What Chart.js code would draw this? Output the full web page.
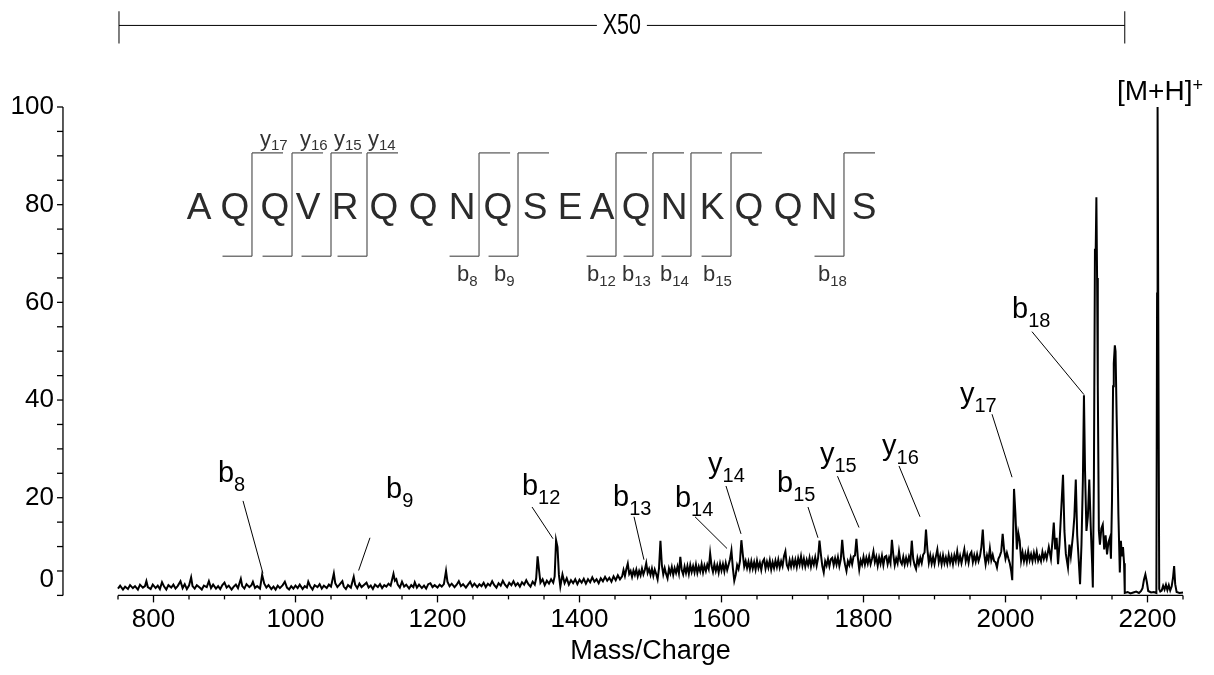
<!DOCTYPE html>
<html>
<head>
<meta charset="utf-8">
<title>MS/MS spectrum</title>
<script src="https://cdn.jsdelivr.net/npm/chart.js@4.4.1/dist/chart.umd.min.js"></script>
<style>
  html, body { margin: 0; padding: 0; background: #fff; }
  #wrap { width: 1214px; height: 675px; }
</style>
</head>
<body>
<div id="wrap"><canvas id="spectrum" width="1214" height="675"></canvas></div>
<script>
//===============================================================
// ============================ DATA ============================
//===============================================================

// m/z of each point of the trace (x50 region up to 2168, then raw)
const mz = [
  750, 753, 757, 760, 764, 767, 771, 774, 778, 781,
  785, 788, 790, 792, 796, 799, 803, 806, 809, 812,
  815, 818, 821, 825, 828, 831, 834, 838, 841, 844,
  847, 850, 853, 855, 858, 861, 865, 868, 871, 875,
  878, 881, 884, 888, 891, 894, 897, 900, 903, 906,
  910, 913, 916, 919, 923, 925, 928, 931, 935, 938,
  940, 943, 946, 950, 953, 956, 959, 962, 966, 969,
  972, 975, 978, 982, 985, 988, 991, 994, 997, 1000,
  1003, 1006, 1010, 1013, 1016, 1018, 1021, 1024, 1027, 1031,
  1034, 1037, 1040, 1044, 1047, 1050, 1054, 1056, 1059, 1062,
  1066, 1068, 1071, 1074, 1078, 1082, 1084, 1087, 1090, 1093,
  1096, 1100, 1103, 1106, 1109, 1112, 1116, 1119, 1122, 1125,
  1128, 1131, 1134, 1136, 1138, 1140, 1142, 1144, 1147, 1150,
  1153, 1156, 1160, 1163, 1166, 1168, 1171, 1174, 1178, 1181,
  1184, 1187, 1190, 1193, 1196, 1200, 1203, 1206, 1209, 1212,
  1214, 1217, 1220, 1224, 1227, 1230, 1233, 1236, 1240, 1243,
  1246, 1249, 1252, 1256, 1259, 1262, 1265, 1268, 1271, 1274,
  1277, 1280, 1283, 1286, 1289, 1292, 1295, 1298, 1301, 1304,
  1307, 1310, 1313, 1316, 1319, 1322, 1325, 1328, 1331, 1334,
  1337, 1339, 1341, 1343, 1345, 1348, 1351, 1354, 1357, 1360,
  1363, 1365, 1367, 1369, 1371, 1373, 1376, 1379, 1382, 1385,
  1388, 1391, 1394, 1397, 1400, 1403, 1406, 1409, 1412, 1415,
  1418, 1421, 1424, 1427, 1430, 1433, 1436, 1439, 1442, 1445,
  1448, 1451, 1454, 1457,
  1460, 1462, 1464, 1466, 1468, 1470, 1472, 1474, 1476, 1478,
  1480, 1482, 1484, 1486, 1488, 1490, 1492, 1494, 1496, 1498,
  1500, 1502, 1504, 1506, 1508, 1510, 1512, 1514, 1516, 1518,
  1520, 1522, 1524, 1526, 1528, 1530, 1532, 1534, 1536, 1538,
  1540, 1542, 1544, 1546, 1548, 1550, 1552, 1554, 1556, 1558,
  1560, 1562, 1564, 1566, 1568, 1570, 1572, 1574, 1576, 1578,
  1580, 1582, 1584, 1586, 1588, 1590, 1592, 1594, 1596, 1598,
  1600, 1602, 1604, 1606, 1608, 1610, 1612, 1614, 1616, 1618,
  1620, 1622, 1624, 1626, 1628, 1630, 1632, 1634, 1636, 1638,
  1640, 1642, 1644, 1646, 1648, 1650, 1652, 1654, 1656, 1658,
  1660, 1662, 1664, 1666, 1668, 1670, 1672, 1674, 1676, 1678,
  1680, 1682, 1684, 1686, 1688, 1690, 1692, 1694, 1696, 1698,
  1700, 1702, 1704, 1706, 1708, 1710, 1712, 1714, 1716, 1718,
  1720, 1722, 1724, 1726, 1728, 1730, 1732, 1734, 1736, 1738,
  1740, 1742, 1744, 1746, 1748, 1750, 1752, 1754, 1756, 1758,
  1760, 1762, 1764, 1766, 1768, 1770, 1772, 1774, 1776, 1778,
  1780, 1782, 1784, 1786, 1788, 1790, 1792, 1794, 1796, 1798,
  1800, 1802, 1804, 1806, 1808, 1810, 1812, 1814, 1816, 1818,
  1820, 1822, 1824, 1826, 1828, 1830, 1832, 1834, 1836, 1838,
  1840, 1842, 1844, 1846, 1848, 1850, 1852, 1854, 1856, 1858,
  1860, 1862, 1864, 1866, 1868, 1870, 1872, 1874, 1876, 1878,
  1880, 1882, 1884, 1886, 1888, 1890, 1892, 1894, 1896, 1898,
  1900, 1902, 1904, 1906, 1908, 1910, 1912, 1914, 1916, 1918,
  1920, 1922, 1924, 1926, 1928, 1930, 1932, 1934, 1936, 1938,
  1940, 1942, 1944, 1946, 1948, 1950, 1952, 1954, 1956, 1958,
  1960, 1962, 1964, 1966, 1968, 1970, 1972, 1974, 1976, 1978,
  1980, 1982, 1984, 1986, 1988, 1990, 1992, 1994, 1996, 1998,
  2000, 2002, 2004, 2006, 2008, 2009.5, 2011, 2012, 2014, 2016, 2018,
  2020, 2022, 2024, 2026, 2028, 2030, 2032, 2034, 2036, 2038,
  2040, 2042, 2044, 2046, 2048, 2050, 2052, 2054, 2056, 2058,
  2061, 2064, 2066, 2068, 2070, 2072, 2074, 2076,
  2078, 2081, 2083, 2085, 2088, 2090, 2092, 2095, 2097, 2099,
  2101, 2103, 2105, 2107, 2109, 2110.5, 2112, 2114, 2116, 2118,
  2120, 2122, 2123, 2124.5, 2126, 2127, 2128, 2129, 2130, 2131.5,
  2133, 2135, 2137, 2139, 2141, 2143, 2145, 2147, 2148.5, 2150,
  2151.5, 2152.5, 2154, 2155, 2156.5, 2158, 2159, 2161, 2162.5, 2164,
  2165.5, 2167, 2168, 2172, 2176, 2180, 2184, 2188, 2191, 2193,
  2195, 2197, 2199, 2201, 2205, 2209, 2212.5, 2213.5, 2214.2, 2215.2,
  2216.5, 2218, 2220, 2222, 2224, 2226, 2228, 2230, 2232, 2234,
  2236, 2237.5, 2239, 2241, 2245, 2250
];

// relative intensity (%)
const intensity = [
  1.4, 2.0, 1.2, 1.8, 1.3, 2.1, 1.5, 1.9, 1.2, 2.2,
  1.6, 1.9, 2.9, 1.7, 1.3, 2.2, 1.5, 2.0, 1.3, 2.7,
  1.8, 1.2, 2.1, 1.6, 2.2, 1.4, 1.9, 2.9, 1.5, 2.3,
  1.3, 2.0, 3.7, 1.9, 1.4, 2.1, 1.6, 1.2, 2.0, 1.7,
  2.9, 1.5, 2.2, 1.4, 1.9, 1.3, 2.1, 2.6, 1.6, 2.0,
  1.2, 1.8, 2.2, 1.5, 3.4, 1.9, 1.4, 2.3, 1.7, 2.1,
  2.8, 1.5, 1.9, 1.4, 4.2, 2.4, 1.6, 2.1, 1.3, 1.8,
  1.2, 2.0, 1.5, 2.1, 2.8, 1.6, 1.2, 1.9, 1.4, 2.0,
  1.5, 2.2, 1.3, 1.9, 1.6, 2.8, 1.8, 1.2, 2.1, 1.7,
  2.3, 1.4, 2.0, 1.5, 2.2, 1.8, 4.5, 2.5, 1.7, 2.2,
  2.9, 1.8, 1.3, 2.1, 1.6, 3.8, 2.2, 1.5, 2.4, 1.7,
  2.1, 2.6, 1.6, 2.0, 1.3, 2.2, 1.7, 2.3, 1.5, 2.1,
  1.8, 2.4, 2.0, 3.2, 4.4, 3.0, 3.3, 2.2, 1.6, 2.8,
  1.8, 2.2, 1.4, 2.1, 1.7, 2.7, 1.6, 2.2, 1.5, 2.0,
  1.4, 2.3, 2.5, 1.7, 2.1, 1.6, 2.2, 1.8, 2.3, 5.0,
  2.8, 1.9, 2.4, 1.7, 2.2, 2.9, 1.9, 2.3, 1.6, 2.2,
  2.8, 1.8, 2.4, 1.7, 2.3, 1.9, 2.6, 1.7, 2.4, 2.0,
  2.9, 2.1, 1.6, 2.5, 2.0, 3.0, 2.2, 1.7, 2.6, 2.1,
  2.9, 2.0, 2.5, 1.8, 2.7, 2.2, 3.1, 2.3, 1.8, 2.8,
  2.2, 3.5, 8.0, 5.2, 2.6, 3.3, 2.1, 3.0, 2.4, 3.3,
  2.6, 3.9, 11.3, 9.9, 4.2, 1.8, 4.3, 2.5, 3.5, 2.2,
  3.1, 2.5, 3.3, 2.3, 3.2, 2.6, 3.4, 2.4, 3.3, 2.7,
  3.7, 2.8, 3.3, 2.5, 3.5, 2.9, 3.8, 3.0, 3.6, 2.8,
  3.9, 3.1, 4.1, 3.3,
  3.9, 5.2, 4.0, 5.4, 6.5, 4.4, 5.0, 3.8, 5.1, 4.2,
  5.3, 3.9, 5.0, 4.1, 5.5, 4.3, 5.2, 6.6, 4.6, 5.4,
  4.2, 5.5, 4.0, 5.3, 4.4, 3.3, 5.6, 11.2, 6.2, 4.3,
  5.6, 4.4, 3.5, 5.5, 4.5, 5.8, 4.2, 5.6, 4.6, 5.9,
  4.5, 7.9, 5.2, 4.3, 5.9, 4.6, 6.0, 4.4, 6.2, 4.8,
  6.0, 4.7, 6.3, 4.6, 5.9, 4.9, 6.4, 4.7, 6.1, 5.0,
  6.3, 5.4, 8.6, 6.0, 4.8, 6.4, 5.0, 6.2, 4.7, 6.5,
  5.1, 6.4, 4.9, 6.6, 5.2, 6.3, 7.4, 9.2, 5.6, 3.0,
  4.2, 6.2, 5.4, 7.0, 11.3, 8.4, 5.9, 7.0, 5.6, 6.9,
  5.4, 7.0, 5.5, 6.8, 5.3, 7.1, 5.6, 6.7, 5.2, 6.9,
  7.4, 5.5, 6.9, 5.7, 7.2, 5.3, 6.8, 5.6, 7.1, 5.8,
  7.3, 5.7, 7.0, 6.0, 8.0, 9.0, 6.2, 5.5, 7.2, 5.9,
  7.4, 6.0, 7.3, 5.8, 7.6, 6.3, 8.0, 6.1, 7.5, 5.9,
  7.3, 6.2, 7.7, 5.9, 7.4, 6.3, 7.8, 6.1, 7.6, 11.2,
  8.4, 6.0, 4.7, 7.0, 6.1, 7.5, 6.0, 7.4, 7.7, 6.2,
  7.6, 6.3, 7.8, 6.0, 7.4, 11.4, 8.0, 6.3, 5.0, 7.0,
  6.2, 7.7, 6.4, 8.0, 8.2, 11.6, 7.8, 5.3, 7.2, 6.3,
  7.9, 6.3, 7.7, 6.5, 8.0, 6.4, 7.5, 9.0, 6.8, 7.9,
  6.1, 7.8, 6.5, 8.1, 6.2, 7.9, 8.1, 6.4, 7.7, 6.6,
  11.4, 8.3, 6.2, 7.6, 6.6, 9.0, 7.0, 6.4, 7.9, 6.3,
  7.7, 6.5, 7.9, 6.8, 11.2, 7.5, 6.2, 5.4, 7.6, 6.4,
  7.7, 6.6, 8.3, 8.8, 13.5, 9.4, 6.7, 8.2, 6.5, 7.9,
  6.4, 8.0, 9.4, 6.8, 8.1, 6.4, 8.2, 6.6, 7.8, 6.5,
  8.3, 6.7, 8.0, 6.4, 8.2, 7.0, 9.0, 6.8, 8.1, 6.6,
  8.0, 9.4, 7.0, 8.3, 6.7, 8.4, 8.9, 6.8, 8.2, 6.9,
  8.4, 7.0, 8.0, 9.9, 13.5, 8.5, 6.4, 8.2, 7.1, 9.6,
  7.2, 8.3, 7.0, 6.8, 5.7, 7.5, 8.1, 9.0, 12.6, 9.4,
  7.5, 8.7, 7.6, 6.6, 5.0, 3.1, 14.2, 21.8, 16.6, 9.4, 12.8,
  11.2, 7.1, 8.8, 7.0, 8.5, 6.9, 9.0, 7.2, 8.4, 7.0,
  8.7, 7.3, 8.9, 7.1, 8.0, 7.0, 8.9, 7.5, 8.6, 7.5,
  9.9, 7.5, 10.9, 14.9, 9.4, 11.8, 6.4, 10.4,
  16.1, 24.7, 13.2, 8.5, 5.7, 10.4, 8.0, 12.3, 16.1, 23.7,
  12.3, 7.5, 2.3, 10.4, 23.7, 41.0, 25.6, 13.2, 16.1, 23.7,
  14.2, 6.6, 1.6, 23.7, 71.0, 70.0, 81.5, 65.0, 42.8, 13.2,
  10.4, 13.7, 14.5, 9.4, 12.3, 8.4, 10.9, 11.8, 7.5, 19.4,
  42.8, 47.5, 51.2, 50.0, 37.0, 25.6, 16.6, 4.7, 11.2, 8.0,
  9.9, 6.6, 0.5, 0.7, 0.4, 0.6, 0.8, 0.5, 0.9, 1.5,
  3.2, 4.3, 2.8, 0.9, 0.6, 0.7, 0.5, 61.8, 100, 57.0,
  1.3, 0.8, 1.0, 2.0, 1.2, 2.2, 1.1, 2.1, 1.0, 1.8,
  3.7, 6.0, 2.3, 0.7, 0.5, 0.6
];

// axis ranges and ticks
const xRange = [750, 2250];
const xLabelEvery = 200;
const xMinorStep = 50;
const yRange = [0, 100];
const yLabelEvery = 20;
const yMinorStep = 5;

// peptide and its fragment annotations
const sequence = ['A','Q','Q','V','R','Q','Q','N','Q','S','E','A','Q','N','K','Q','Q','N','S'];
const yIons = ['17', '16', '15', '14'];
const bIons = ['8', '9', '12', '13', '14', '15', '18'];

//===============================================================
// ================= ANNOTATION PLACEMENT (m/z, %) ==============
//===============================================================

const FONT = "'Liberation Sans', Arial, Helvetica, sans-serif";

const yAxisAt = 672.5;                 // y axis line is drawn left of the plot
const zeroLabelLift = 16;              // the "0" label sits above its tick
const x50Span = [751.4, 2168];         // magnified region bar
const x50Level = 116.7;
const x50Tick = [113.0, 119.6];

const seqAt = [864.1, 914.8, 971.1, 1017.6, 1069.7, 1124.6, 1179.6, 1234.5, 1285.2, 1337.3,
               1386.6, 1431.7, 1479.6, 1533.1, 1586.6, 1638.7, 1693.7, 1744.4, 1800.7];
const seqBase = 77.0;
const cleavageAt = [938.7, 995.1, 1050.0, 1100.7, 1258.5, 1313.4, 1451.4, 1503.5, 1557.0, 1613.4, 1772.5];
const bracketTop = 90.6, bracketBottom = 69.45;
const tailRight = 43.7, tailLeft = 41.5;
const yIonAt = [950.0, 1006.3, 1054.2, 1102.1];
const yIonBase = 92.0;
const bIonAt = [1227.5, 1279.6, 1410.6, 1459.9, 1513.4, 1573.9, 1735.9];
const bIonBase = 64.4;

// labels on the trace: text left/baseline, leader line start and end
const peakLabels = [
  { ion: 'b', n: '8',  at: [890.8, 23.2],  from: [926.1, 19.35], to: [954.2, 4.5] },
  { ion: 'b', n: '9',  at: [1127.5, 20.0], from: [1104.9, 11.8], to: [1088.9, 5.1] },
  { ion: 'b', n: '12', at: [1319.0, 20.6], from: [1333.1, 18.1], to: [1362.7, 11.6] },
  { ion: 'b', n: '13', at: [1447.2, 18.3], from: [1476.8, 16.1], to: [1490.8, 7.3] },
  { ion: 'b', n: '14', at: [1534.5, 18.1], from: [1562.7, 16.1], to: [1607.8, 9.6] },
  { ion: 'y', n: '14', at: [1581.0, 25.0], from: [1606.3, 22.4], to: [1627.5, 12.6] },
  { ion: 'b', n: '15', at: [1678.2, 21.2], from: [1721.8, 18.1], to: [1735.9, 11.8] },
  { ion: 'y', n: '15', at: [1738.7, 27.1], from: [1763.4, 24.4], to: [1793.7, 13.9] },
  { ion: 'y', n: '16', at: [1826.1, 28.7], from: [1850.0, 26.5], to: [1879.6, 16.1] },
  { ion: 'y', n: '17', at: [1935.9, 39.3], from: [1981.0, 37.1], to: [2009.2, 24.2] },
  { ion: 'b', n: '18', at: [2009.2, 56.8], from: [2037.3, 54.0], to: [2110.6, 41.1] }
];
const parentAt = [2157.0, 101.4];

//===============================================================
// ========================= PLUGIN =============================
//===============================================================

const decorations = {
  id: 'decorations',
  afterDraw(chart) {
    const ctx = chart.ctx;
    const xs = chart.scales.x;
    const ys = chart.scales.y;
    const px = v => xs.getPixelForValue(v);
    const py = v => ys.getPixelForValue(v);

    function seg(x1, y1, x2, y2) {
      ctx.beginPath();
      ctx.moveTo(x1, y1);
      ctx.lineTo(x2, y2);
      ctx.stroke();
    }

    function ionText(ion, n, mzLeft, base, big, small, drop) {
      const lx = px(mzLeft), ly = py(base);
      ctx.font = big + 'px ' + FONT;
      ctx.fillText(ion, lx, ly);
      const w = ctx.measureText(ion).width;
      ctx.font = small + 'px ' + FONT;
      ctx.fillText(n, lx + w, ly + drop);
    }

    ctx.save();
    ctx.textAlign = 'left';
    ctx.textBaseline = 'alphabetic';

    // ---- axes ----
    ctx.strokeStyle = '#000';
    ctx.lineWidth = 1.3;
    const ax = px(yAxisAt);
    const yBottom = py(yRange[0]);
    seg(ax, yBottom, ax, py(yRange[1]));
    ys.ticks.forEach(t => seg(ax - 6, py(t.value), ax, py(t.value)));
    seg(px(xRange[0]), yBottom, px(xRange[1]), yBottom);
    xs.ticks.forEach(t => {
      const len = t.value % xLabelEvery === 0 ? 7 : 4;
      seg(px(t.value), yBottom, px(t.value), yBottom + len);
    });

    // "0" label, lifted off the corner like in the original
    ctx.fillStyle = '#000';
    ctx.font = '26px ' + FONT;
    ctx.textAlign = 'right';
    ctx.textBaseline = 'middle';
    ctx.fillText('0', ax - 9, yBottom - zeroLabelLift);
    ctx.textAlign = 'left';
    ctx.textBaseline = 'alphabetic';

    // ---- X50 bar ----
    ctx.lineWidth = 1;
    const barY = py(x50Level);
    seg(px(x50Span[0]), barY, px(x50Span[1]), barY);
    seg(px(x50Span[0]), py(x50Tick[0]), px(x50Span[0]), py(x50Tick[1]));
    seg(px(x50Span[1]), py(x50Tick[0]), px(x50Span[1]), py(x50Tick[1]));
    const midX = (px(x50Span[0]) + px(x50Span[1])) / 2;
    ctx.fillStyle = '#fff';
    ctx.fillRect(midX - 25, barY - 14, 50, 28);
    ctx.save();
    ctx.translate(midX, barY);
    ctx.scale(0.74, 1);
    ctx.fillStyle = '#000';
    ctx.font = '29px ' + FONT;
    ctx.textAlign = 'center';
    ctx.textBaseline = 'middle';
    ctx.fillText('X50', 0, 1);
    ctx.restore();

    // ---- peptide sequence with cleavage brackets ----
    ctx.strokeStyle = '#555';
    ctx.lineWidth = 1.2;
    cleavageAt.forEach(c => {
      seg(px(c), py(bracketTop), px(c), py(bracketBottom));
      seg(px(c), py(bracketTop), px(c + tailRight), py(bracketTop));
      seg(px(c - tailLeft), py(bracketBottom), px(c), py(bracketBottom));
    });
    ctx.fillStyle = '#2b2b2b';
    ctx.font = '37px ' + FONT;
    ctx.textAlign = 'center';
    sequence.forEach((aa, i) => ctx.fillText(aa, px(seqAt[i]), py(seqBase)));
    ctx.textAlign = 'left';
    ctx.fillStyle = '#333';
    yIons.forEach((n, i) => ionText('y', n, yIonAt[i], yIonBase, 22, 15, 4));
    bIons.forEach((n, i) => ionText('b', n, bIonAt[i], bIonBase, 22, 15, 5));

    // ---- labels on the spectrum ----
    ctx.strokeStyle = '#000';
    ctx.lineWidth = 1;
    ctx.fillStyle = '#000';
    peakLabels.forEach(p => {
      seg(px(p.from[0]), py(p.from[1]), px(p.to[0]), py(p.to[1]));
      ionText(p.ion, p.n, p.at[0], p.at[1], 29, 20, 9);
    });

    // [M+H]+
    const mx = px(parentAt[0]), my = py(parentAt[1]);
    ctx.font = '28px ' + FONT;
    ctx.fillText('[M+H]', mx, my);
    const mw = ctx.measureText('[M+H]').width;
    ctx.font = '18px ' + FONT;
    ctx.fillText('+', mx + mw, my - 9);

    ctx.restore();
  }
};

//===============================================================
// ========================= GRÁFICO ============================
//===============================================================

Chart.defaults.font.family = FONT;
Chart.defaults.color = '#000';

const ctx = document.getElementById('spectrum');

new Chart(ctx, {
  type: 'line',
  data: {
    datasets: [{
      data: mz.map((m, i) => ({ x: m, y: intensity[i] })),
      borderColor: '#000',
      borderWidth: 2,
      pointRadius: 0,
      tension: 0,
      fill: false,
      clip: false
    }]
  },
  options: {
    responsive: false,
    animation: false,
    devicePixelRatio: 1,
    layout: { padding: { top: 107, right: 31, left: 0, bottom: 0 } },
    plugins: {
      legend: { display: false },
      tooltip: { enabled: false }
    },
    scales: {
      x: {
        type: 'linear',
        min: xRange[0],
        max: xRange[1],
        grid: { display: false, drawTicks: false },
        border: { display: false },
        ticks: {
          stepSize: xMinorStep,
          autoSkip: false,
          maxRotation: 0,
          padding: 9,
          font: { size: 26 },
          color: '#000',
          callback: v => (v % xLabelEvery === 0 ? v : '')
        },
        title: {
          display: true,
          text: 'Mass/Charge',
          font: { size: 27 },
          color: '#000',
          padding: { top: 0, bottom: 5 }
        },
        afterFit(scale) { scale.height = 77; }
      },
      y: {
        min: yRange[0],
        max: yRange[1],
        grid: { display: false, drawTicks: false },
        border: { display: false },
        ticks: {
          stepSize: yMinorStep,
          autoSkip: false,
          padding: 64,
          font: { size: 26 },
          color: '#000',
          // 0 is drawn by the plugin, lifted off the axis corner
          callback: v => (v % yLabelEvery === 0 && v !== 0 ? v : '')
        },
        afterFit(scale) { scale.width = 118; }
      }
    }
  },
  plugins: [decorations]
});
</script>
</body>
</html>
